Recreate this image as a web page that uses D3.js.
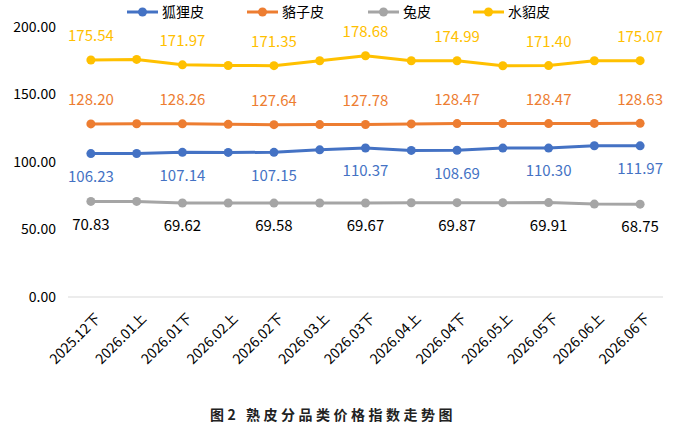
<!DOCTYPE html>
<html>
<head>
<meta charset="utf-8">
<script src="https://cdn.jsdelivr.net/npm/d3@7"></script>
<style>
  body { margin: 0; background: #fff; }
  svg { display: block; }
</style>
</head>
<body>
<div id="chart"></div>
<script>
// chart data
const periods = ["2025.12下", "2026.01上", "2026.01下", "2026.02上", "2026.02下", "2026.03上", "2026.03下",
  "2026.04上", "2026.04下", "2026.05上", "2026.05下", "2026.06上", "2026.06下"];
const seriesNames = ["狐狸皮", "貉子皮", "兔皮", "水貂皮"];
const foxValues = [106.23, 106.3, 107.14, 107.1, 107.15, 109.0, 110.37, 108.6, 108.69, 110.3, 110.30, 112.0, 111.97];
const raccoonValues = [128.20, 128.3, 128.26, 127.9, 127.64, 127.7, 127.78, 128.2, 128.47, 128.5, 128.47, 128.6, 128.63];
const rabbitValues = [70.83, 70.8, 69.62, 69.6, 69.58, 69.6, 69.67, 69.8, 69.87, 69.9, 69.91, 68.8, 68.75];
const minkValues = [175.54, 176.0, 171.97, 171.5, 171.35, 175.0, 178.68, 175.0, 174.99, 171.3, 171.40, 175.0, 175.07];
const yTicks = [0, 50, 100, 150, 200];

const colors = ["#4472C4", "#ED7D31", "#A5A5A5", "#FFC000"];
const labelColors = ["#4472C4", "#ED7D31", "#000000", "#FFC000"];
const labelOffsets = [23, -24, 23, -24]; // below / above the point
const allValues = [foxValues, raccoonValues, rabbitValues, minkValues];

const width = 679, height = 437;
const margin = { left: 68, right: 16, top: 27, bottom: 140 };

const svg = d3.select("#chart").append("svg")
  .attr("width", width)
  .attr("height", height);

const x = d3.scaleBand()
  .domain(periods)
  .range([margin.left, width - margin.right]);

const y = d3.scaleLinear()
  .domain([0, 200])
  .range([height - margin.bottom, margin.top]);

const numFont = "'Noto Sans CJK SC', 'Noto Sans', sans-serif";

// y axis labels
svg.append("g")
  .selectAll("text")
  .data(yTicks)
  .enter()
  .append("text")
  .attr("x", 56)
  .attr("y", d => y(d))
  .attr("dy", "0.35em")
  .attr("text-anchor", "end")
  .style("font-family", numFont)
  .style("font-size", "14px")
  .attr("fill", "#000")
  .text(d => d3.format(".2f")(d));

// baseline
svg.append("line")
  .attr("x1", margin.left)
  .attr("x2", width - margin.right)
  .attr("y1", y(0))
  .attr("y2", y(0))
  .attr("stroke", "#D9D9D9")
  .attr("stroke-width", 1);

// x axis labels, rotated
svg.append("g")
  .selectAll("text")
  .data(periods)
  .enter()
  .append("text")
  .attr("transform", d => "translate(" + (x(d) + x.bandwidth() / 2 + 7) + "," + (y(0) + 19) + ") rotate(-45)")
  .attr("text-anchor", "end")
  .attr("dy", "0.35em")
  .style("font-family", numFont)
  .style("font-size", "14px")
  .attr("fill", "#000")
  .text(d => d);

const line = d3.line()
  .x((d, i) => x(periods[i]) + x.bandwidth() / 2)
  .y(d => y(d));

allValues.forEach((vals, s) => {
  const g = svg.append("g");
  g.append("path")
    .datum(vals)
    .attr("d", line)
    .attr("fill", "none")
    .attr("stroke", colors[s])
    .attr("stroke-width", 3)
    .attr("stroke-linejoin", "round");

  g.selectAll("circle")
    .data(vals)
    .enter()
    .append("circle")
    .attr("cx", (d, i) => x(periods[i]) + x.bandwidth() / 2)
    .attr("cy", d => y(d))
    .attr("r", 4.5)
    .attr("fill", colors[s]);

  // labels on every other point
  g.selectAll("text")
    .data(vals.map((v, i) => ({ v, i })).filter(d => d.i % 2 === 0))
    .enter()
    .append("text")
    .attr("x", d => x(periods[d.i]) + x.bandwidth() / 2)
    .attr("y", d => y(d.v) + labelOffsets[s])
    .attr("dy", "0.35em")
    .attr("text-anchor", "middle")
    .style("font-family", numFont)
    .style("font-size", "15px")
    .attr("fill", labelColors[s])
    .text(d => d3.format(".2f")(d.v));
});

// legend
const legendX = [127, 247, 368, 473];
const legend = svg.append("g");
seriesNames.forEach((name, s) => {
  const lg = legend.append("g").attr("transform", "translate(" + legendX[s] + ",12)");
  lg.append("line")
    .attr("x1", 0).attr("x2", 31)
    .attr("y1", 0).attr("y2", 0)
    .attr("stroke", colors[s])
    .attr("stroke-width", 3);
  lg.append("circle")
    .attr("cx", 15.5).attr("cy", 0).attr("r", 4.5)
    .attr("fill", colors[s]);
  lg.append("text")
    .attr("x", 35)
    .attr("y", 0)
    .attr("dy", "0.35em")
    .style("font-family", numFont)
    .style("font-size", "14px")
    .attr("fill", "#000")
    .text(name);
});

// caption
svg.append("text")
  .attr("x", 333)
  .attr("y", 415)
  .attr("dy", "0.35em")
  .attr("text-anchor", "middle")
  .style("font-family", "'Noto Sans CJK SC', sans-serif")
  .style("font-size", "14px")
  .style("font-weight", "bold")
  .style("letter-spacing", "3.5px")
  .attr("fill", "#222")
  .text("图2 熟皮分品类价格指数走势图");
</script>
</body>
</html>
